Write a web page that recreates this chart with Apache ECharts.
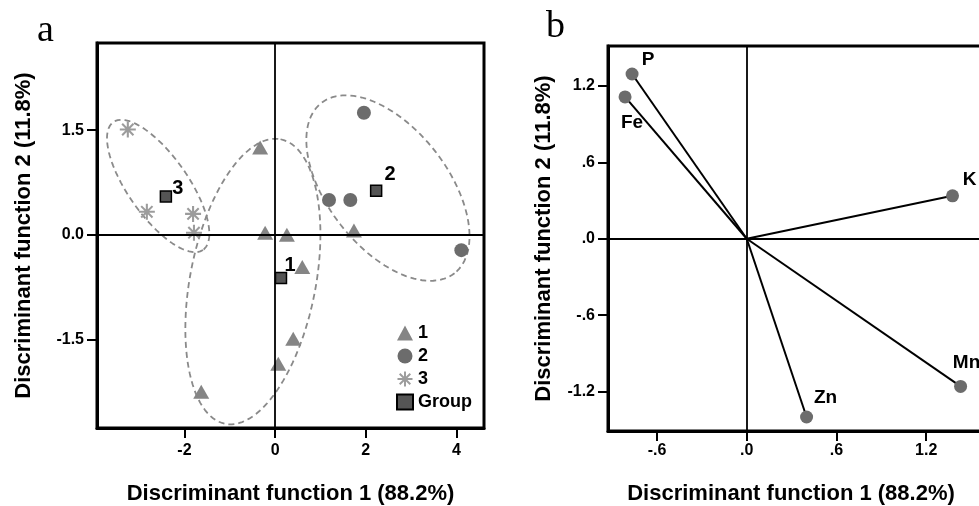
<!DOCTYPE html>
<html><head><meta charset="utf-8">
<script src="https://cdn.jsdelivr.net/npm/echarts@6/dist/echarts.min.js"></script>
<style>html,body{margin:0;padding:0;background:#fff}#c{width:979px;height:506px}</style>
</head><body><div id="c"></div>
<script>
// ---------- Panel a data ----------
const groupNames = ['1', '2', '3'];
const group1X = [-0.33, -0.22, 0.26, 0.60, 0.40, 0.07, -1.63, 1.74];
const group1Y = [1.25, 0.03, 0.00, -0.46, -1.49, -1.85, -2.25, 0.06];
const group2X = [1.96, 1.19, 1.66, 4.11];
const group2Y = [1.75, 0.50, 0.50, -0.22];
const group3X = [-3.25, -2.83, -1.81, -1.79];
const group3Y = [1.51, 0.33, 0.30, 0.03];
const centroidX = [0.13, 2.23, -2.41];
const centroidY = [-0.62, 0.63, 0.55];
// ellipses: centre and two conjugate semi-axis vectors (data units)
const ellCx = [-0.49, 2.49, -2.58];
const ellCy = [-0.67, 0.67, 0.70];
const ellUx = [0.61, 1.47, 0.99];
const ellUy = [2.04, -1.22, -0.917];
const ellVx = [1.36, -1.04, -0.543];
const ellVy = [-0.172, -0.53, -0.247];
const aXTicks = [-2, 0, 2, 4];
const aYTicks = [-1.5, 0, 1.5];

// ---------- Panel b data ----------
const varNames = ['P', 'Fe', 'K', 'Mn', 'Zn'];
const varX = [-0.767, -0.814, 1.376, 1.43, 0.40];
const varY = [1.294, 1.114, 0.337, -1.16, -1.40];
const bXTicks = [-0.6, 0, 0.6, 1.2];
const bYTicks = [-1.2, -0.6, 0, 0.6, 1.2];

const xTitle = 'Discriminant function 1 (88.2%)';
const yTitle = 'Discriminant function 2 (11.8%)';

// ---------- styles ----------
const FONT = '"Liberation Sans", Arial, sans-serif';
const groupLabelOffsets = [[9, -13], [14, -16], [12, -8]];
const varLabelOffsets = [[16, -14], [7, 26], [17, -16], [6, -24], [19, -19]];

function asteriskPath() {
  let p = '';
  const L = 10, w = 1.3;
  for (let k = 0; k < 4; k++) {
    const a = k * Math.PI / 4, c = Math.cos(a), s = Math.sin(a);
    const pts = [[-L, -w], [L, -w], [L, w], [-L, w]].map(([x, y]) =>
      [(10 + x * c - y * s).toFixed(3), (10 + x * s + y * c).toFixed(3)]);
    p += 'M' + pts.map(q => q.join(',')).join('L') + 'Z';
  }
  return 'path://' + p;
}
function ellipse(i) {
  const out = [];
  for (let k = 0; k <= 120; k++) {
    const t = k / 120 * 2 * Math.PI;
    out.push([ellCx[i] + ellUx[i] * Math.cos(t) + ellVx[i] * Math.sin(t),
              ellCy[i] + ellUy[i] * Math.cos(t) + ellVy[i] * Math.sin(t)]);
  }
  return out;
}
const zip = (xs, ys) => xs.map((x, i) => [x, ys[i]]);
const fmtA = v => v.toFixed(1);
const fmtAX = v => String(v);
const fmtB = v => v.toFixed(1).replace(/^(-?)0\./, '$1.');

function axisCommon(ticks, fmt, labelMargin) {
  return {
    type: 'value', scale: false,
    axisLine: { show: true, onZero: false, lineStyle: { color: '#000', width: 3 } },
    axisTick: { show: true, inside: false, length: 10, customValues: ticks, lineStyle: { color: '#000', width: 2 } },
    axisLabel: { show: true, customValues: ticks, formatter: fmt, margin: labelMargin,
      color: '#000', fontFamily: FONT, fontWeight: 'bold', fontSize: 16 },
    splitLine: { show: false },
    nameLocation: 'middle',
    nameTextStyle: { color: '#000', fontFamily: FONT, fontWeight: 'bold', fontSize: 22 }
  };
}

const zeroLines = {
  silent: true, symbol: ['none', 'none'], label: { show: false },
  lineStyle: { color: '#000', width: 1.8, type: 'solid' },
  emphasis: { disabled: true },
  data: [{ xAxis: 0 }, { yAxis: 0 }]
};

const series = [];
// ellipses
for (let i = 0; i < 3; i++) {
  series.push({
    type: 'line', xAxisIndex: 0, yAxisIndex: 0, data: ellipse(i),
    symbol: 'none', silent: true, smooth: false,
    lineStyle: { color: '#8a8a8a', width: 1.8, type: [6, 4] },
    markLine: i === 0 ? zeroLines : undefined, z: 3
  });
}
series.push({ name: '1', type: 'scatter', xAxisIndex: 0, yAxisIndex: 0, data: zip(group1X, group1Y),
  symbol: 'triangle', symbolSize: [16, 14], itemStyle: { color: '#858585', opacity: 1 }, z: 4 });
series.push({ name: '2', type: 'scatter', xAxisIndex: 0, yAxisIndex: 0, data: zip(group2X, group2Y),
  symbol: 'circle', symbolSize: 14, itemStyle: { color: '#6c6c6c', opacity: 1 }, z: 4 });
series.push({ name: '3', type: 'scatter', xAxisIndex: 0, yAxisIndex: 0, data: zip(group3X, group3Y),
  symbol: asteriskPath(), symbolSize: 16, itemStyle: { color: '#9c9c9c', opacity: 1 }, z: 4 });
series.push({ name: 'Group', type: 'scatter', xAxisIndex: 0, yAxisIndex: 0,
  data: centroidX.map((x, i) => ({ value: [x, centroidY[i]],
    label: { show: true, formatter: groupNames[i], position: 'inside', offset: groupLabelOffsets[i],
      color: '#000', fontFamily: FONT, fontWeight: 'bold', fontSize: 20 } })),
  symbol: 'rect', symbolSize: 11, itemStyle: { color: '#555', borderColor: '#000', borderWidth: 1.5, opacity: 1 }, z: 5 });

// panel b vectors
varNames.forEach((n, i) => {
  series.push({ type: 'line', xAxisIndex: 1, yAxisIndex: 1, data: [[0, 0], [varX[i], varY[i]]],
    symbol: 'none', silent: true, lineStyle: { color: '#000', width: 2 },
    markLine: i === 0 ? zeroLines : undefined, z: 3 });
});
series.push({ type: 'scatter', xAxisIndex: 1, yAxisIndex: 1,
  data: varNames.map((n, i) => ({ value: [varX[i], varY[i]],
    label: { show: true, formatter: n, position: 'inside', offset: varLabelOffsets[i],
      color: '#000', fontFamily: FONT, fontWeight: 'bold', fontSize: 19 } })),
  symbol: 'circle', symbolSize: 13, itemStyle: { color: '#6c6c6c', opacity: 1 }, z: 4 });

const xAxisB = axisCommon(bXTicks, fmtB, 12);
xAxisB.nameTextStyle = Object.assign({}, xAxisB.nameTextStyle, { padding: [0, 15, 0, 0] });

const chart = echarts.init(document.getElementById('c'), null, { renderer: 'canvas' });
chart.setOption({
  animation: false,
  backgroundColor: '#fff',
  grid: [
    { left: 97, top: 43, right: 495, bottom: 78, show: true, borderColor: '#000', borderWidth: 3,
      containLabel: false, outerBoundsMode: 'none' },
    { left: 608, top: 46, width: 381, bottom: 75, show: true, borderColor: '#000', borderWidth: 3,
      containLabel: false, outerBoundsMode: 'none' }
  ],
  xAxis: [
    Object.assign(axisCommon(aXTicks, fmtAX, 15), { gridIndex: 0, min: -3.93, max: 4.61, name: xTitle, nameGap: 55 }),
    Object.assign(xAxisB, { gridIndex: 1, min: -0.928, max: 1.62, name: xTitle, nameGap: 52 })
  ],
  yAxis: [
    Object.assign(axisCommon(aYTicks, fmtA, 13), { gridIndex: 0, min: -2.77, max: 2.75, name: yTitle, nameGap: 62 }),
    Object.assign(axisCommon(bYTicks, fmtB, 13), { gridIndex: 1, min: -1.51, max: 1.514, name: yTitle, nameGap: 53 })
  ],
  legend: {
    data: ['1', '2', '3', 'Group'], orient: 'vertical', left: 396, top: 324, padding: 0,
    itemWidth: 16, itemHeight: 15, itemGap: 5, selectedMode: false,
    textStyle: { color: '#000', fontFamily: FONT, fontWeight: 'bold', fontSize: 18 }
  },
  graphic: [
    { type: 'text', left: 37, top: 12, style: { text: 'a', font: '38px "Liberation Serif", "Times New Roman", serif', fill: '#000' } },
    { type: 'text', left: 546, top: 8, style: { text: 'b', font: '38px "Liberation Serif", "Times New Roman", serif', fill: '#000' } }
  ],
  series: series
});
</script>
</body></html>
